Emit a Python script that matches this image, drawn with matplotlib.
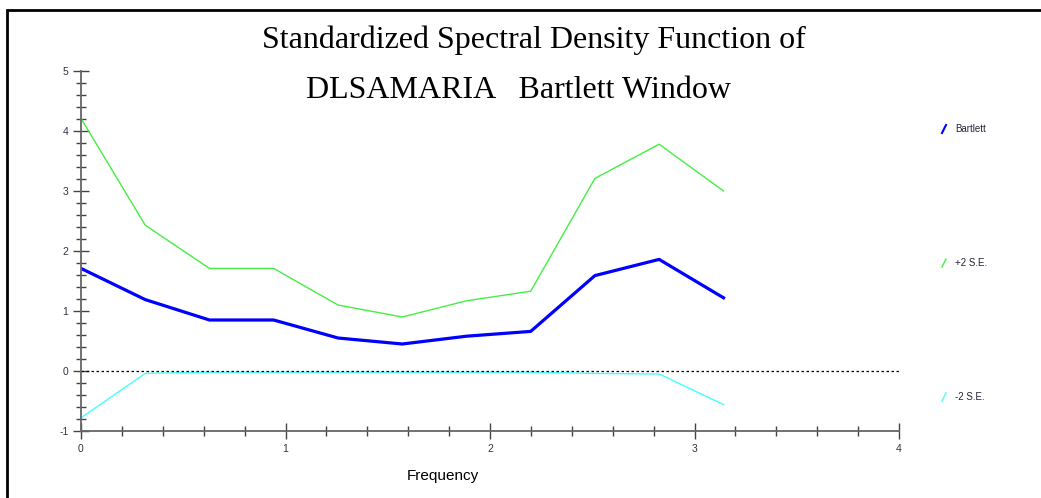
#Standardized spectral density, Bartlett window
import numpy as np
import matplotlib.pyplot as plt
from matplotlib.lines import Line2D
from matplotlib.patches import Rectangle

plt.rcParams['axes.unicode_minus'] = False

#Frequencies k*pi/10
freq = [0.0, 0.314, 0.628, 0.942, 1.257, 1.571, 1.885, 2.199, 2.513, 2.827, 3.142]
bartlett = [1.71, 1.19, 0.85, 0.85, 0.55, 0.45, 0.58, 0.66, 1.59, 1.86, 1.22]
plus2se = [4.21, 2.43, 1.71, 1.71, 1.10, 0.90, 1.17, 1.33, 3.21, 3.78, 3.00]
minus2se = [-0.78, -0.04, -0.02, -0.02, -0.02, -0.02, -0.02, -0.02, -0.04, -0.05, -0.56]
legend_labels = ["Bartlett", "+2 S.E.", "-2 S.E."]
legend_colors = ["#0000ff", "#44ee44", "#44ffff"]

fig = plt.figure(figsize=(10.41, 4.98), dpi=100)
ax = fig.add_axes([81/1041, 1-431/498, (899-81)/1041, (431-71)/498])

ax.plot(freq, plus2se, color=legend_colors[1], lw=1)
ax.plot(freq, minus2se, color=legend_colors[2], lw=1)
ax.plot(freq, bartlett, color=legend_colors[0], lw=2.3)
ax.axhline(0, color="black", lw=0.9, ls=(0, (2, 2)))

ax.set_xlim(0, 4)
ax.set_ylim(-1, 5)
for s in ["top", "right"]:
	ax.spines[s].set_visible(False)
for s in ["left", "bottom"]:
	ax.spines[s].set_color("#666666")
	ax.spines[s].set_linewidth(1.3)
ax.set_xticks([0, 1, 2, 3, 4])
ax.set_yticks([-1, 0, 1, 2, 3, 4, 5])
ax.set_xticks(np.arange(0, 4.01, 0.2), minor=True)
ax.set_yticks(np.arange(-1, 5.01, 0.2), minor=True)
ax.tick_params(which="major", direction="inout", length=12, width=1, color="#444444",
	labelsize=7.5, labelcolor="#333344", pad=3)
ax.tick_params(which="minor", direction="inout", length=7, width=1, color="#444444")
for lab in ax.get_xticklabels() + ax.get_yticklabels():
	lab.set_family("Liberation Sans")

ax.set_xlabel("Frequency", fontsize=11, family="Liberation Sans")
ax.xaxis.set_label_coords((443-81)/(899-81), -(469-431)/(431-71))

#Title, two lines
fig.text(534/1041, 1-48/498, "Standardized Spectral Density Function of", ha="center",
	va="baseline", fontsize=23, family="Liberation Serif")
fig.text(519/1041, 1-98/498, "DLSAMARIA   Bartlett Window", ha="center",
	va="baseline", fontsize=23, family="Liberation Serif")

#Legend entries on the right
for i in range(0, 3):
	y = 129 + 134*i
	fig.add_artist(Line2D([942/1041, 946/1041], [1-(y+4)/498, 1-(y-4)/498],
		color=legend_colors[i], lw=1.5 if i == 0 else 1))
	fig.text(955/1041, 1-y/498, legend_labels[i], fontsize=7, va="center",
		family="Liberation Sans", color="#222233")

#Frame
fig.add_artist(Rectangle((7/1041, -0.1), 1.2, 1-10/498+0.1, fill=False,
	edgecolor="black", lw=2, transform=fig.transFigure))

fig.savefig("out.png", dpi=100)
